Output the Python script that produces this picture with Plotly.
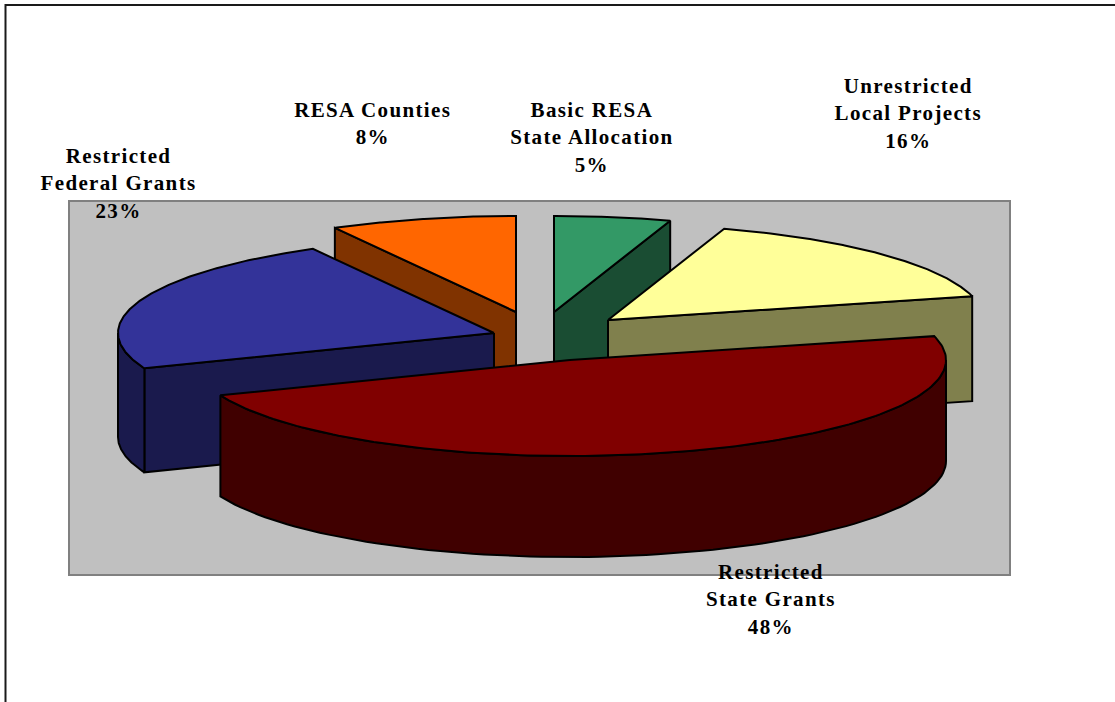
import numpy as np
import plotly.graph_objects as go

# --- chart data -----------------------------------------------------------
label_lines = [
    ["Basic RESA", "State Allocation"],
    ["Unrestricted", "Local Projects"],
    ["Restricted", "State Grants"],
    ["Restricted", "Federal Grants"],
    ["RESA Counties"],
]
shares = [5, 16, 48, 23, 8]

# --- styling ---------------------------------------------------------------
top_colors = ["#339966", "#FFFF99", "#800000", "#333399", "#FF6600"]
side_colors = ["#1A4D33", "#80804D", "#400000", "#1A1A4D", "#803300"]
# how far each exploded slice is pulled away from the pie centre (pixels)
pull_x = [10, 64, 26, -50, -28]
pull_y = [-23, -15, 25, -2, -23]
slice_depth = [104, 105, 101, 104, 104]
label_x = [592, 908, 771, 118, 372]
label_y = [137, 113, 599, 183, 123]
draw_order = [4, 0, 3, 1, 2]

CX, CY = 544, 335
RX, RY = 376, 96
W, H = 1115, 702


def project(cx, cy, angle_deg, drop=0.0):
    a = np.radians(angle_deg)
    return cx + RX * np.sin(a), cy - RY * np.cos(a) + drop


fig = go.Figure()


def poly(xs, ys, color):
    fig.add_trace(go.Scatter(
        x=list(xs) + [xs[0]], y=list(ys) + [ys[0]], mode="lines", fill="toself",
        fillcolor=color, line=dict(color="#000000", width=2), hoverinfo="skip",
        showlegend=False,
    ))


ends = np.cumsum(shares) / np.sum(shares) * 360.0
starts = np.concatenate([[0.0], ends[:-1]])

for i in draw_order:
    a0, a1 = starts[i], ends[i]
    tx, ty = CX + pull_x[i], CY + pull_y[i]
    depth = slice_depth[i]

    # flat cut faces that look toward the viewer
    for edge, visible in ((a0, np.sin(np.radians(a0)) < -1e-9),
                          (a1, np.sin(np.radians(a1)) > 1e-9)):
        if visible:
            rx, ry = project(tx, ty, edge)
            poly([tx, rx, rx, tx], [ty, ry, ry + depth, ty + depth], side_colors[i])

    # curved outer wall: only the front half (90..270 degrees) is seen
    w0, w1 = max(a0, 90.0), min(a1, 270.0)
    if w1 > w0:
        ang = np.linspace(w0, w1, 90)
        rx, ry = project(tx, ty, ang)
        poly(np.r_[rx, rx[::-1]], np.r_[ry, (ry + depth)[::-1]], side_colors[i])

    # top face
    ang = np.linspace(a0, a1, 160)
    rx, ry = project(tx, ty, ang)
    poly(np.r_[tx, rx], np.r_[ty, ry], top_colors[i])

annotations = [
    dict(x=label_x[i], y=label_y[i], xref="x", yref="y", showarrow=False,
         text="<b>" + "</b><br><b>".join(label_lines[i] + [f"{shares[i]}%"]) + "</b>",
         align="center",
         font=dict(family="Liberation Serif", size=21, color="#000000"))
    for i in range(len(shares))
]

fig.update_layout(
    width=W, height=H, margin=dict(l=0, r=0, t=0, b=0),
    paper_bgcolor="#FFFFFF", plot_bgcolor="#FFFFFF", showlegend=False,
    xaxis=dict(range=[0, W], visible=False, fixedrange=True),
    yaxis=dict(range=[H, 0], visible=False, fixedrange=True),
    annotations=annotations,
    shapes=[
        dict(type="rect", xref="x", yref="y", x0=69, y0=201, x1=1010, y1=575,
             fillcolor="#C0C0C0", line=dict(color="#808080", width=2), layer="below"),
        dict(type="rect", xref="x", yref="y", x0=5.5, y0=5, x1=W + 20, y1=H + 20,
             fillcolor="rgba(0,0,0,0)", line=dict(color="#1A1A1A", width=2), layer="below"),
    ],
)

fig.write_html(
    "out.html",
    config={"displayModeBar": False},
    post_script=(
        "document.body.style.margin='0';document.body.style.overflow='hidden';"
        "document.querySelectorAll('.annotation-text').forEach(function(t){"
        "t.style.letterSpacing='1.35px';});"
    ),
)
